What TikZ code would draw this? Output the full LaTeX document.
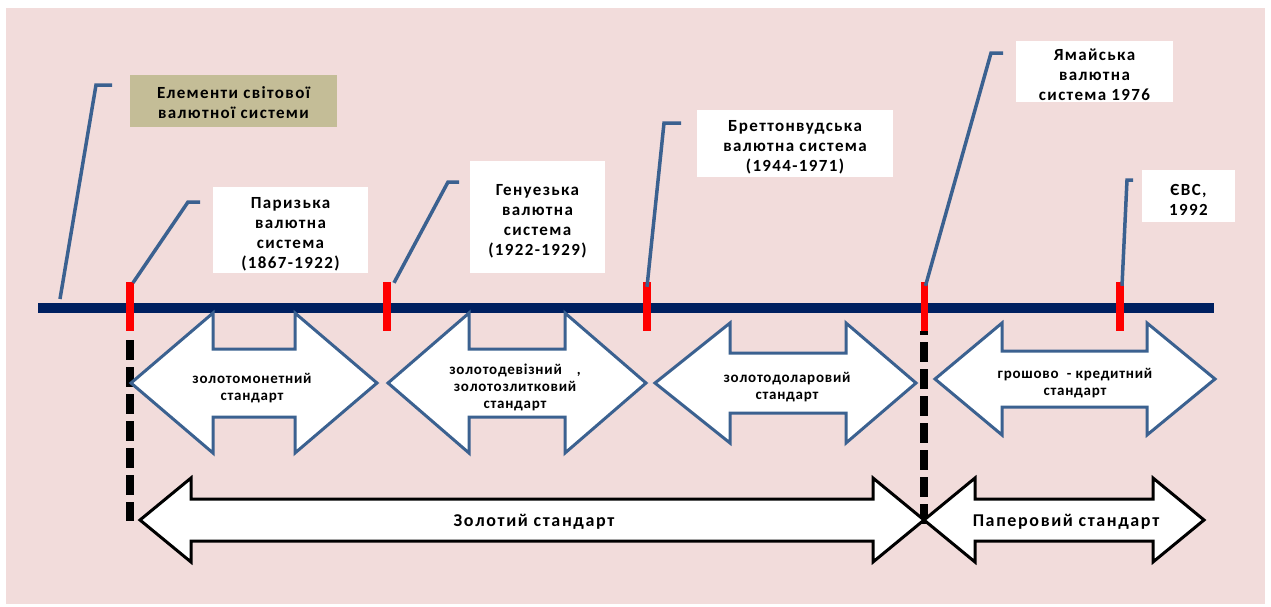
\documentclass[tikz,border=0pt]{standalone}
\usepackage{fontspec}
\setmainfont{Carlito}
\definecolor{bgpink}{HTML}{F2DCDB}
\definecolor{navy}{HTML}{002060}
\definecolor{calloutblue}{HTML}{3B6190}
\definecolor{khaki}{HTML}{C4BD97}
\newcommand\blockarrow[8]{%
  \draw[#1] (#2,#6) -- (#3,#6-#7) -- (#3,#6-#8) -- (#4,#6-#8) -- (#4,#6-#7) -- (#5,#6)
    -- (#4,#6+#7) -- (#4,#6+#8) -- (#3,#6+#8) -- (#3,#6+#7) -- cycle;}
\tikzset{
  boxshape/.style={fill=white, inner sep=0pt},
  boxtext/.style={inner sep=0pt, align=center, text=black,
    font=\fontsize{17}{20}\selectfont\bfseries\addfontfeatures{LetterSpace=8}},
  callout/.style={draw=calloutblue, line width=3.5pt, line join=miter},
  redtick/.style={fill=red, inner sep=0pt, minimum width=7.5pt, minimum height=49pt},
  axisline/.style={draw=navy, line width=9.5pt},
  bluearrow/.style={draw=calloutblue, fill=white, line width=3pt, line join=miter},
  blackarrow/.style={draw=black, fill=white, line width=3pt, line join=miter},
  arrowtext/.style={align=center, inner sep=0pt,
    font=\fontsize{15}{17}\selectfont\bfseries\addfontfeatures{LetterSpace=5}},
  bigtext/.style={align=center, inner sep=0pt,
    font=\fontsize{18}{20}\selectfont\bfseries\addfontfeatures{LetterSpace=9}},
  dashline/.style={draw=black, line width=7.5pt, dash pattern=on 20pt off 7pt}
}
\begin{document}
\begin{tikzpicture}[x=1pt,y=-1pt]
\useasboundingbox (0,0) rectangle (1271,606);
\fill[white] (0,0) rectangle (1271,606);
\fill[bgpink] (6,8) rectangle (1265,604);

% boxes
\node[boxshape, fill=khaki, minimum width=207pt, minimum height=52pt] (elem) at (233.5,101) {};
\node[boxshape, minimum width=155pt, minimum height=86pt] (paris) at (290.5,230) {};
\node[boxshape, minimum width=135pt, minimum height=112pt] (genoa) at (537.5,217) {};
\node[boxshape, minimum width=196pt, minimum height=67pt] (bretton) at (795,143.5) {};
\node[boxshape, minimum width=157pt, minimum height=61pt] (jamaica) at (1094.5,71.5) {};
\node[boxshape, minimum width=93pt, minimum height=52pt] (evs) at (1188.5,196) {};
\node[boxtext] (elemT) at ([yshift=-2pt]elem.center) {Елементи світової\\валютної системи};
\node[boxtext] (parisT) at ([yshift=-4pt]paris.center) {Паризька\\валютна\\система\\(1867-1922)};
\node[boxtext] (genoaT) at ([yshift=-4pt]genoa.center) {Генуезька\\валютна\\система\\(1922-1929)};
\node[boxtext] (brettonT) at ([yshift=-4pt]bretton.center) {Бреттонвудська\\валютна система\\(1944-1971)};
\node[boxtext] (jamaicaT) at ([yshift=-3pt]jamaica.center) {Ямайська\\валютна\\система 1976};
\node[boxtext] (evsT) at ([yshift=-4pt]evs.center) {ЄВС,\\1992};

% axis
\coordinate (axL) at (38,308);
\coordinate (axR) at (1214,308);
\draw[axisline] (axL) -- (axR);

% dashed separators
\coordinate (d1) at (130,521);
\coordinate (d2) at (924,530);
\draw[dashline, dash phase=20pt] (130,333) -- (d1);
\draw[dashline, dash phase=16pt] (924,331) -- (d2);

% red ticks
\node[redtick] (t1) at (130,306.5) {};
\node[redtick] (t2) at (387,306.5) {};
\node[redtick] (t3) at (647,306.5) {};
\node[redtick] (t4) at (924.5,306.5) {};
\node[redtick] (t5) at (1120,306.5) {};

% callouts
\coordinate (c0a) at (96,85);   \coordinate (c0b) at (112,85);
\coordinate (c1a) at (188,202); \coordinate (c1b) at (200,202);
\coordinate (c2a) at (448,182); \coordinate (c2b) at (459,182);
\coordinate (c3a) at (664,123); \coordinate (c3b) at (681,123);
\coordinate (c4a) at (991,53);  \coordinate (c4b) at (1003,53);
\coordinate (c5a) at (1127,180);\coordinate (c5b) at (1133,180);
\draw[callout] (60,299) -- (c0a) -- (c0b);
\draw[callout] ([xshift=3pt,yshift=-1pt]t1.north) -- (c1a) -- (c1b);
\draw[callout] ([xshift=7pt,yshift=-1pt]t2.north) -- (c2a) -- (c2b);
\draw[callout] ([yshift=-5pt]t3.north) -- (c3a) -- (c3b);
\draw[callout] ([xshift=1pt,yshift=-4pt]t4.north) -- (c4a) -- (c4b);
\draw[callout] ([xshift=2pt,yshift=-4pt]t5.north) -- (c5a) -- (c5b);

% blue block arrows
\blockarrow{bluearrow}{131}{213}{295}{377}{383}{70}{34}
\blockarrow{bluearrow}{388}{469}{565}{646}{383}{70}{34}
\blockarrow{bluearrow}{655}{730}{846}{916}{383}{60}{30}
\blockarrow{bluearrow}{935}{1002}{1147}{1215}{379}{56}{28}
\node[arrowtext] (a1) at (252,388) {золотомонетний\\стандарт};
\node[arrowtext] (a2) at (515,387) {золотодевізний\quad ,\\золотозлитковий\\стандарт};
\node[arrowtext] (a3) at (787,387) {золотодоларовий\\стандарт};
\node[arrowtext] (a4) at (1075,383) {грошово \ - кредитний\\стандарт};

% black block arrows
\blockarrow{blackarrow}{140}{191}{873}{924}{520}{42}{21}
\blockarrow{blackarrow}{924}{975}{1153}{1204}{520}{42}{21}
\node[bigtext] (g) at (534,522) {Золотий стандарт};
\node[bigtext] (p) at (1066,522) {Паперовий стандарт};
\end{tikzpicture}
\end{document}
